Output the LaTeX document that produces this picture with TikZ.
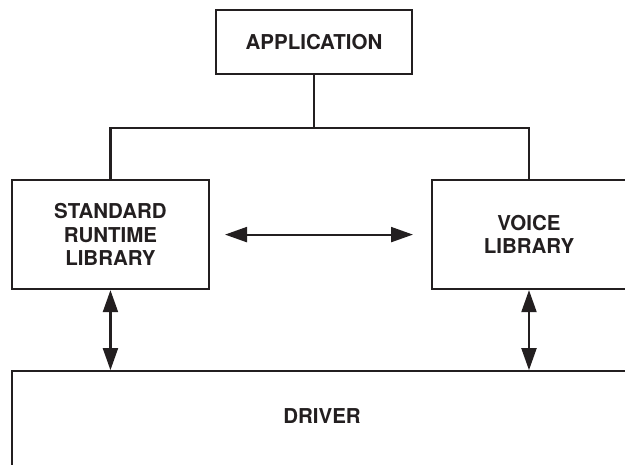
\documentclass[tikz,border=0pt]{standalone}
\usepackage{fontspec}
\setmainfont{TeX Gyre Heros}
\usepackage{tikz}
\usetikzlibrary{positioning, arrows.meta}
\definecolor{ink}{RGB}{35,31,32}

\begin{document}
\begin{tikzpicture}[x=1pt, y=-1pt, line width=2.1pt, draw=ink, text=ink,
  box/.style={rectangle, draw=ink, align=center, inner sep=0pt, font=\fontsize{20.5}{23.5}\selectfont\bfseries},
  dbl/.style={{Triangle[length=22pt, width=15pt]}-{Triangle[length=22pt, width=15pt]}}]

\useasboundingbox (0,0) rectangle (625,465);
\clip (0,0) rectangle (625,465);

\node[box, minimum width=196pt, minimum height=64pt] (app) at (314,42) {APPLICATION};

\coordinate[below=53pt of app.south] (bus);

\node[box, minimum width=197pt, minimum height=109pt, below left = 104pt and 104pt of app.south] (std) {STANDARD\\RUNTIME\\LIBRARY};

\node[box, minimum width=240pt, minimum height=109pt, below right = 104pt and 117pt of app.south] (voice) {};
\node[box, draw=none] (voicetext) at (voice.center -| 529,0) {VOICE\\LIBRARY};

\node[box, minimum width=660pt, minimum height=140pt, below right = 80pt and 0pt of std.south west] (drv) {};
\node[box, draw=none] (drvtext) at ([yshift=-46pt]drv.north -| 322,0) {DRIVER};

\draw[ink] (app.south) -- (bus);
\draw[ink] (std.north) |- (bus) -| (voice.north -| voicetext.center);

\draw[ink, dbl, shorten <=15pt, shorten >=18pt] (std.east) -- (voice.west);
\draw[ink, dbl] (std.south) -- (std.south |- drv.north);
\draw[ink, dbl] (voice.south -| voicetext.center) -- (voicetext.center |- drv.north);

\end{tikzpicture}
\end{document}
